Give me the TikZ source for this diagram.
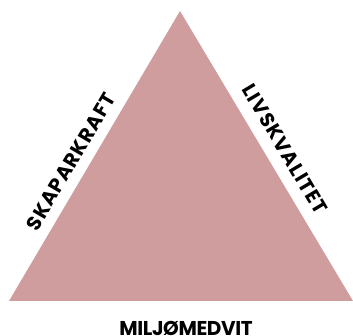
\documentclass[tikz,border=0pt]{standalone}
\usepackage{fontspec}
\setmainfont{Poppins}[BoldFont={Poppins Bold}]
\definecolor{rosefill}{RGB}{207,157,157}

\begin{document}
\begin{tikzpicture}[x=1pt,y=-1pt,
    sidelabel/.style={font=\bfseries\fontsize{20}{20}\selectfont\addfontfeatures{LetterSpace=5}, inner sep=0pt},
    baselabel/.style={font=\bfseries\fontsize{20}{20}\selectfont\addfontfeatures{LetterSpace=-2}}]
    \useasboundingbox (0,0) rectangle (353,336);

    % Define the corners of the triangle
    \coordinate (L) at (9,301);
    \coordinate (R) at (353,301);
    \coordinate (A) at (180,11);

    % Draw the filled triangle
    \fill[rosefill] (L) -- (A) -- (R) -- cycle;

    % Labels along the sides, set a bit off the edge
    \path (L) -- node[sloped, above=10pt, pos=0.45, sidelabel] (skap) {SKAPARKRAFT} (A);
    \path (A) -- node[sloped, above=12pt, pos=0.51, sidelabel] (livs) {LIVSKVALITET} (R);

    % Label under the base
    \node[baselabel, anchor=base] (milj) at (186,335) {MILJØMEDVIT};

\end{tikzpicture}
\end{document}
